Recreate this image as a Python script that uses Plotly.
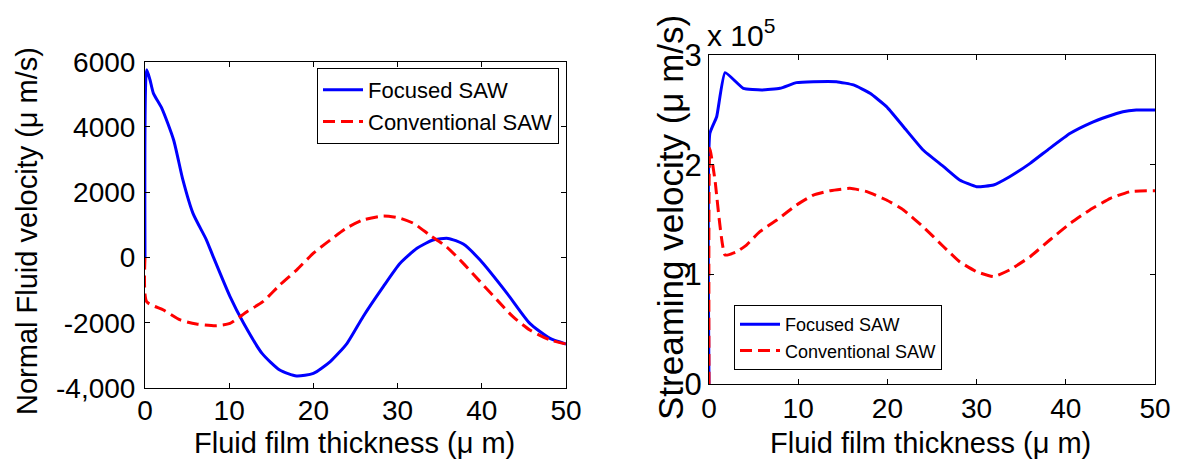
import plotly.graph_objects as go

# ---- Left panel: Normal fluid velocity (μm/s) ----
x_left_focused = [0, 0.2, 0.6, 1.0, 2.0, 3.4, 4.5, 5.7, 7.3, 8.1, 10.1, 11.7, 13.9, 16.0, 18.0, 20.0,
                  22.0, 24.0, 25.9, 28.3, 30.3, 32.3, 34.2, 36.0, 37.8, 39.8, 43.0, 45.7, 48.1, 50.0]
y_left_focused = [0, 5750, 5440, 5030, 4570, 3600, 2375, 1350, 535, 25, -1200, -2010, -2940, -3450, -3630, -3550,
                  -3190, -2630, -1815, -895, -180, 280, 535, 585, 410, -80, -1100, -2020, -2480, -2650]

x_left_conv = [0, 0.2, 2.2, 4.2, 6.1, 8.5, 10.1, 12.1, 14.0, 16.0, 18.0, 20.0, 22.0, 23.9, 25.9, 28.3,
               30.2, 31.9, 33.8, 35.8, 37.8, 39.8, 41.8, 43.7, 45.7, 48.1, 50.0]
y_left_conv = [0, -1355, -1610, -1915, -2040, -2090, -2020, -1660, -1355, -845, -385, 130, 535, 895, 1150, 1270,
               1210, 1045, 690, 330, -180, -740, -1300, -1815, -2220, -2530, -2650]

left_yticks = [-4000, -2000, 0, 2000, 4000, 6000]
left_yticklabels = ["-4,000", "-2000", "0", "2000", "4000", "6000"]

# ---- Right panel: Streaming velocity (μm/s) ----
x_right_focused = [0, 0.1, 0.86, 1.8, 3.85, 5.9, 7.96, 9.8, 11.7, 14.3, 16.2, 18.05, 19.9, 21.8, 24.0, 26.3,
                   28.1, 30.0, 31.9, 33.7, 36.0, 38.2, 40.5, 42.7, 44.6, 46.4, 47.9, 50.0]
y_right_focused = [0, 2.286e5, 2.437e5, 2.839e5, 2.696e5, 2.681e5, 2.696e5, 2.748e5, 2.757e5, 2.757e5, 2.727e5,
                   2.651e5, 2.529e5, 2.346e5, 2.134e5, 1.982e5, 1.860e5, 1.799e5, 1.815e5, 1.890e5, 2.012e5,
                   2.149e5, 2.286e5, 2.377e5, 2.437e5, 2.483e5, 2.498e5, 2.498e5]

x_right_conv = [0, 0.1, 0.67, 1.8, 3.1, 4.2, 5.7, 7.6, 9.8, 11.7, 13.6, 15.8, 17.7, 19.9, 21.8, 24.0, 26.3,
                28.1, 30.0, 31.9, 33.7, 36.0, 38.2, 40.5, 42.7, 45.0, 47.2, 50.0]
y_right_conv = [0, 2.149e5, 1.860e5, 1.176e5, 1.206e5, 1.267e5, 1.389e5, 1.495e5, 1.632e5, 1.723e5, 1.763e5,
                1.784e5, 1.754e5, 1.678e5, 1.587e5, 1.434e5, 1.252e5, 1.115e5, 1.024e5, 0.979e5, 1.040e5,
                1.161e5, 1.313e5, 1.465e5, 1.587e5, 1.693e5, 1.754e5, 1.763e5]

right_yticks = [0, 1e5, 2e5, 3e5]
right_yticklabels = ["0", "1", "2", "3"]

x_ticks = [0, 10, 20, 30, 40, 50]

FONT = "Liberation Sans, Arial, Helvetica, sans-serif"
BLUE = "rgb(0,0,255)"
RED = "rgb(255,0,0)"
W, H = 1179, 460
OFF = 8  # page body margin


def fx(px):
    return (px - OFF) / W


def fy(py):
    return 1 - (py - OFF) / H


fig = go.Figure()
fig.add_trace(go.Scatter(x=x_left_focused, y=y_left_focused, mode="lines", name="Focused SAW",
                         line=dict(color=BLUE, width=3, shape="spline", smoothing=0.6),
                         xaxis="x", yaxis="y", legend="legend"))
fig.add_trace(go.Scatter(x=x_left_conv, y=y_left_conv, mode="lines", name="Conventional SAW",
                         line=dict(color=RED, width=3, dash="12px,6px", shape="spline", smoothing=0.6),
                         xaxis="x", yaxis="y", legend="legend"))
fig.add_trace(go.Scatter(x=x_right_focused, y=y_right_focused, mode="lines", name="Focused SAW",
                         line=dict(color=BLUE, width=3, shape="spline", smoothing=0.4),
                         xaxis="x2", yaxis="y2", legend="legend2"))
fig.add_trace(go.Scatter(x=x_right_conv, y=y_right_conv, mode="lines", name="Conventional SAW",
                         line=dict(color=RED, width=3, dash="12px,6px", shape="spline", smoothing=0.4),
                         xaxis="x2", yaxis="y2", legend="legend2"))

axis_common = dict(showline=True, linecolor="black", linewidth=1, mirror="allticks",
                   ticks="inside", ticklen=5, tickcolor="black", showgrid=False, zeroline=False,
                   automargin=False)

fig.update_layout(
    width=W, height=H,
    margin=dict(l=0, r=0, t=0, b=0, autoexpand=False),
    paper_bgcolor="white", plot_bgcolor="white",
    font=dict(family=FONT, color="black"),
    xaxis=dict(domain=[fx(145), fx(566)], range=[0, 50], tickvals=x_ticks, anchor="y",
               ticklabelstandoff=-3,
               tickfont=dict(family=FONT, size=28, color="black"), **axis_common),
    yaxis=dict(domain=[fy(388), fy(61.7)], range=[-4000, 6000], tickvals=left_yticks,
               ticktext=left_yticklabels, anchor="x", ticklabelstandoff=3,
               tickfont=dict(family=FONT, size=28, color="black"), **axis_common),
    xaxis2=dict(domain=[fx(709), fx(1155)], range=[0, 50], tickvals=x_ticks, anchor="y2",
                ticklabelstandoff=-1,
                tickfont=dict(family=FONT, size=28, color="black"), **axis_common),
    yaxis2=dict(domain=[fy(384), fy(55)], range=[0, 3e5], tickvals=right_yticks,
                ticktext=right_yticklabels, anchor="x2",
                tickfont=dict(family=FONT, size=31, color="black"), **axis_common),
    legend=dict(x=fx(559), y=fy(68), xanchor="right", yanchor="top", bgcolor="white",
                bordercolor="black", borderwidth=1, font=dict(family=FONT, size=22, color="black"),
                tracegroupgap=0, itemwidth=40),
    legend2=dict(x=fx(734), y=fy(305), xanchor="left", yanchor="top", bgcolor="white",
                 bordercolor="black", borderwidth=1, font=dict(family=FONT, size=18, color="black"),
                 tracegroupgap=0, itemwidth=40),
    showlegend=True,
)

fig.add_annotation(text="Normal Fluid velocity (μ m/s)", x=fx(27), y=fy(231), xref="paper", yref="paper",
                   xanchor="center", yanchor="middle", textangle=-90, showarrow=False,
                   font=dict(family=FONT, size=29, color="black"))
fig.add_annotation(text="Fluid film thickness (μ m)", x=fx(354), y=fy(443), xref="paper", yref="paper",
                   xanchor="center", yanchor="middle", showarrow=False,
                   font=dict(family=FONT, size=29, color="black"))
fig.add_annotation(text="Streaming velocity (μ m/s)", x=fx(670), y=fy(218), xref="paper", yref="paper",
                   xanchor="center", yanchor="middle", textangle=-90, showarrow=False,
                   font=dict(family=FONT, size=35, color="black"))
fig.add_annotation(text="Fluid film thickness (μ m)", x=fx(930), y=fy(443), xref="paper", yref="paper",
                   xanchor="center", yanchor="middle", showarrow=False,
                   font=dict(family=FONT, size=29, color="black"))
fig.add_annotation(text="x 10<sup>5</sup>", x=fx(705), y=fy(54), xref="paper", yref="paper",
                   xanchor="left", yanchor="bottom", showarrow=False,
                   font=dict(family=FONT, size=30, color="black"))

fig.write_html("out.html")
